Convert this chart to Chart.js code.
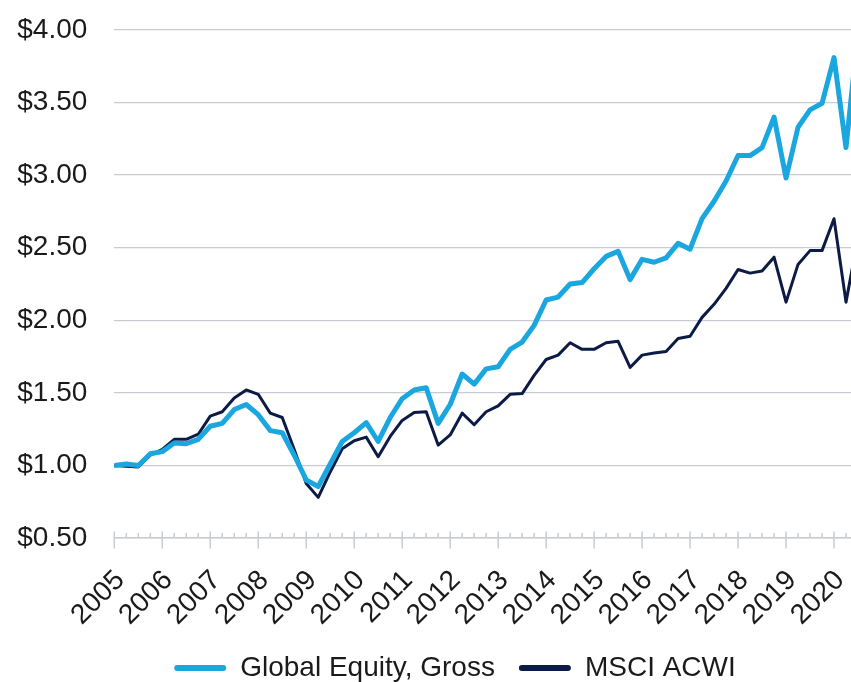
<!DOCTYPE html>
<html>
<head>
<meta charset="utf-8">
<script src="https://cdn.jsdelivr.net/npm/chart.js@4.4.1/dist/chart.umd.min.js"></script>
<style>
  html, body { margin: 0; padding: 0; background: #ffffff; overflow: hidden; }
  #wrap { width: 851px; height: 682px; }
</style>
</head>
<body>
<div id="wrap"><canvas id="c" width="851" height="682"></canvas></div>
<script>
// ---- data (quarterly growth of $1, start of 2005) ----
const startYear = 2005;
const seriesNames = ['Global Equity, Gross', 'MSCI ACWI'];
const globalEquity = [
  1.00, 1.01, 1.00, 1.08, 1.095, 1.155, 1.15, 1.18, 1.27, 1.29,
  1.385, 1.42, 1.35, 1.24, 1.225, 1.07, 0.90, 0.855, 1.01, 1.165,
  1.225, 1.295, 1.165, 1.33, 1.46, 1.52, 1.535, 1.29, 1.42, 1.63,
  1.56, 1.665, 1.68, 1.80, 1.85, 1.965, 2.14, 2.16, 2.25, 2.26,
  2.355, 2.44, 2.475, 2.28, 2.42, 2.40, 2.43, 2.53, 2.49, 2.70,
  2.82, 2.96, 3.135, 3.135, 3.19, 3.40, 2.98, 3.33, 3.45, 3.495,
  3.81, 3.19, 3.98
];
const msciAcwi = [
  1.00, 0.995, 0.99, 1.07, 1.11, 1.18, 1.18, 1.215, 1.34, 1.37,
  1.465, 1.52, 1.49, 1.36, 1.33, 1.11, 0.875, 0.78, 0.955, 1.115,
  1.17, 1.195, 1.06, 1.20, 1.31, 1.365, 1.37, 1.14, 1.21, 1.36,
  1.28, 1.37, 1.41, 1.49, 1.495, 1.62, 1.73, 1.76, 1.845, 1.80,
  1.80, 1.845, 1.855, 1.675, 1.76, 1.775, 1.785, 1.875, 1.89, 2.02,
  2.11, 2.22, 2.35, 2.325, 2.34, 2.435, 2.125, 2.385, 2.48, 2.48,
  2.70, 2.125, 2.57
];
const yearLabels = ['2005','2006','2007','2008','2009','2010','2011','2012',
  '2013','2014','2015','2016','2017','2018','2019','2020'];
const yMin = 0.5, yMax = 4.0, yStep = 0.5;
const xMax = 2020.354;

// ---- styles ----
const lightBlue = '#1aa6df';
const navy = '#0c1b45';
const gridColor = '#c8ccd2';
const textColor = '#1a1a1a';
const font = { family: "'Liberation Sans', Arial, sans-serif", size: 28 };

const toPoints = arr => arr.map((v, i) => ({ x: startYear + i / 4, y: v }));

const quarterTicks = {
  id: 'quarterTicks',
  afterDraw(chart) {
    const xs = chart.scales.x, ys = chart.scales.y, ctx = chart.ctx;
    const y0 = ys.getPixelForValue(yMin);
    ctx.save();
    ctx.strokeStyle = gridColor;
    ctx.lineWidth = 1.5;
    for (let q = 0; startYear + q / 4 <= xs.max; q++) {
      const px = xs.getPixelForValue(startYear + q / 4);
      const major = q % 4 === 0;
      ctx.beginPath();
      ctx.moveTo(px, y0 - (major ? 6.5 : 5));
      ctx.lineTo(px, y0 + (major ? 10.5 : 0));
      ctx.stroke();
    }
    ctx.restore();
  }
};

new Chart(document.getElementById('c'), {
  type: 'line',
  data: {
    datasets: [
      { label: seriesNames[0], data: toPoints(globalEquity), borderColor: lightBlue,
        backgroundColor: lightBlue, borderWidth: 5, pointRadius: 0, tension: 0,
        borderJoinStyle: 'round', borderCapStyle: 'round' },
      { label: seriesNames[1], data: toPoints(msciAcwi), borderColor: navy,
        backgroundColor: navy, borderWidth: 3, pointRadius: 0, tension: 0,
        borderJoinStyle: 'round', borderCapStyle: 'round' }
    ]
  },
  options: {
    responsive: false,
    animation: false,
    devicePixelRatio: 1,
    layout: { padding: { top: 30, left: 0, right: -59, bottom: -10 } },
    plugins: {
      tooltip: { enabled: false },
      legend: {
        position: 'bottom',
        labels: {
          font: font, color: textColor, boxWidth: 52, boxHeight: 6, padding: 24,
          useBorderRadius: true, borderRadius: 3,
          generateLabels(chart) {
            const items = Chart.defaults.plugins.legend.labels.generateLabels(chart);
            items.forEach(it => { it.lineWidth = 0; it.fillStyle = it.strokeStyle; });
            return items;
          }
        }
      }
    },
    scales: {
      x: {
        type: 'linear', min: startYear, max: xMax,
        ticks: {
          stepSize: 1, autoSkip: false, includeBounds: false,
          minRotation: 45, maxRotation: 45,
          padding: 26, labelOffset: 6,
          font: font, color: textColor,
          callback: v => {
            const idx = yearLabels.indexOf(String(v));
            return idx >= 0 ? yearLabels[idx] : '';
          }
        },
        grid: { display: true, drawOnChartArea: false, drawTicks: false },
        border: { display: true, color: gridColor, width: 1.5 },
        afterFit: s => { s.height = 92; s.paddingLeft = 0; s.paddingRight = 0; }
      },
      y: {
        min: yMin, max: yMax,
        ticks: { stepSize: yStep, padding: 27, font: font, color: textColor,
          callback: v => '$' + Number(v).toFixed(2) },
        grid: { color: gridColor, lineWidth: 1.3, drawTicks: false },
        border: { display: false },
        afterFit: s => { s.width = 114.3; s.paddingTop = 0; s.paddingBottom = 0; }
      }
    }
  },
  plugins: [quarterTicks]
});
</script>
</body>
</html>
